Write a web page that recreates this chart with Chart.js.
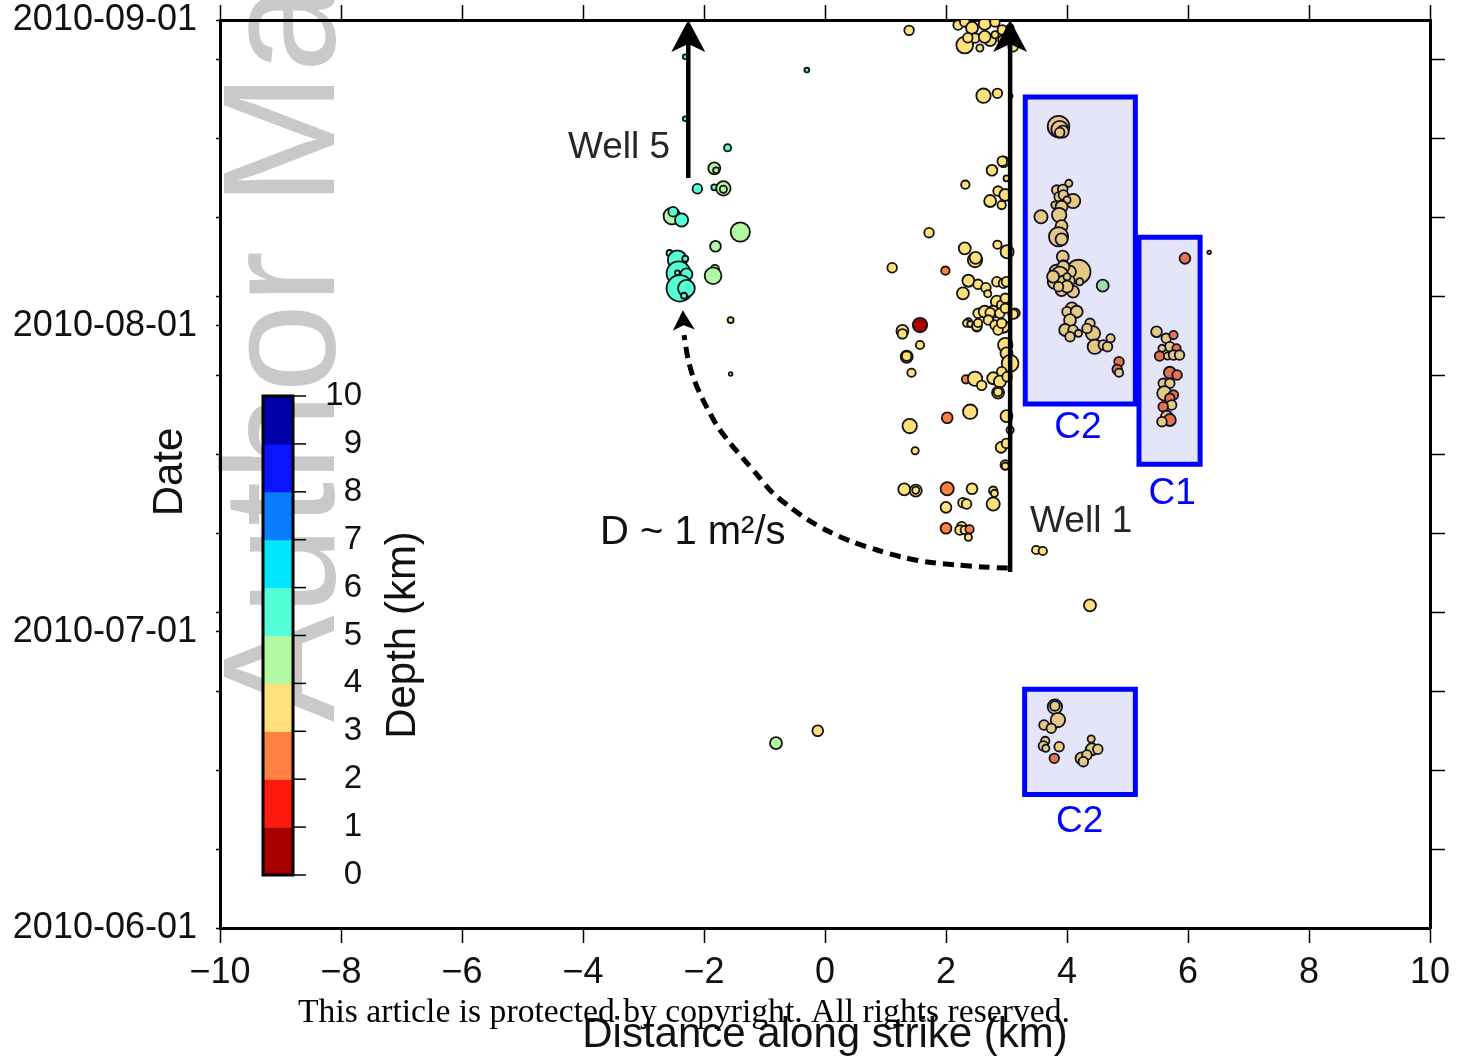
<!DOCTYPE html>
<html>
<head>
<meta charset="utf-8">
<title>Seismicity along strike vs time</title>
<script src="https://cdn.jsdelivr.net/npm/chart.js@4.4.1/dist/chart.umd.min.js"></script>
<style>
  html, body { margin: 0; padding: 0; background: #fff; }
  canvas { display: block; }
</style>
</head>
<body>
<canvas id="chart" width="1458" height="1057"></canvas>
<script>
// Time axis is in days counted from 2010-06-01.
const monthDays = [0, 30, 61, 92];
const monthLabels = ['2010-06-01', '2010-07-01', '2010-08-01', '2010-09-01'];
const minorDays = [8, 16, 24, 32, 40, 48, 56, 64, 72, 80, 88];
const distTicks = [-10, -8, -6, -4, -2, 0, 2, 4, 6, 8, 10];

// depth colour scale, one colour per km (0-1, 1-2, ... 9-10)
const depthLevels = [0, 1, 2, 3, 4, 5, 6, 7, 8, 9, 10];
const depthColors = ['#a80000', '#ff1a10', '#ff8040', '#ffe07a', '#b2f7a2',
                     '#52ffd6', '#00e6ff', '#0a7cff', '#0a14ff', '#0000aa'];

// events: [distance along strike (km), day, depth (km), marker radius]
const well5Events = [
  [-2.31, 88.28, 5.5, 2], [-2.31, 82.0, 5.5, 2], [-1.61, 79.06, 5.5, 3],
  [-1.83, 76.97, 4.5, 5], [-1.80, 76.77, 4.5, 2.5], [-2.11, 74.90, 5.5, 4],
  [-1.83, 75.05, 5.5, 2.5], [-1.68, 74.94, 4.5, 6], [-1.68, 74.85, 4.5, 3],
  [-2.53, 72.14, 4.5, 7], [-2.51, 72.57, 5.5, 4], [-2.37, 71.73, 5.5, 5.5],
  [-1.40, 70.52, 4.5, 8], [-1.81, 69.07, 4.5, 4.5], [-2.57, 68.39, 4.5, 2.5],
  [-2.44, 67.68, 5.5, 8], [-2.31, 67.81, 5.5, 2.5], [-2.42, 66.33, 5.5, 10],
  [-2.29, 66.23, 5.5, 5], [-2.44, 66.39, 5.5, 2], [-1.82, 66.77, 4.5, 3.5],
  [-1.85, 66.09, 4.5, 7], [-2.40, 64.81, 5.5, 11], [-2.29, 64.81, 5.5, 7],
  [-2.33, 64.06, 5.5, 2.5]
];

const scatteredEvents = [
  [-0.30, 86.93, 5.5, 2], [-1.56, 61.60, 3.5, 2.5], [-1.56, 56.13, 3.5, 1.5],
  [-0.81, 18.74, 4.5, 5], [-0.12, 19.99, 3.5, 4.5], [1.39, 90.95, 3.5, 4],
  [1.72, 70.45, 3.5, 4], [1.11, 66.90, 3.5, 4], [3.49, 38.30, 3.5, 3.5],
  [3.60, 38.20, 3.5, 3.5], [4.38, 32.69, 3.5, 5], [6.35, 68.46, 4.5, 1.5]
];

const wellColumnEvents = [
  [2.31, 89.46, 3.5, 7], [2.20, 91.49, 3.5, 4], [2.31, 91.80, 3.5, 4],
  [2.43, 91.20, 3.5, 5], [2.64, 91.60, 3.5, 5], [2.81, 91.80, 3.5, 4],
  [2.93, 91.00, 3.5, 4], [2.48, 90.17, 3.5, 4], [2.73, 89.97, 3.5, 5],
  [2.94, 89.97, 3.5, 4], [3.11, 89.29, 3.5, 4], [2.56, 89.16, 3.5, 3],
  [2.36, 90.20, 3.5, 4], [2.81, 90.50, 3.5, 3], [3.06, 91.20, 3.5, 3],
  [2.64, 90.30, 3.5, 5], [2.62, 84.33, 3.5, 6], [2.85, 84.57, 3.5, 4],
  [3.07, 84.30, 0.5, 1.5], [2.95, 77.64, 3.5, 4.5], [2.93, 77.70, 3.5, 4],
  [2.76, 76.77, 3.5, 4.5], [3.00, 75.96, 3.5, 2.5], [2.32, 75.31, 3.5, 3.5],
  [2.86, 74.67, 3.5, 4], [2.98, 74.27, 3.5, 5], [2.73, 73.66, 3.5, 5],
  [2.92, 73.25, 3.5, 3.5], [2.85, 69.23, 3.5, 3.5], [2.31, 68.87, 3.5, 5],
  [3.01, 68.52, 3.5, 5.5], [2.48, 67.68, 3.5, 6], [2.49, 67.90, 3.5, 5],
  [1.99, 66.60, 2.5, 3.5], [2.37, 65.58, 3.5, 5], [2.53, 65.22, 3.5, 4],
  [2.66, 64.87, 3.5, 4], [2.84, 65.48, 3.5, 4], [2.95, 65.32, 3.5, 4],
  [3.00, 65.48, 3.5, 4], [2.28, 64.31, 3.5, 5], [2.69, 64.27, 3.5, 3],
  [2.84, 63.46, 3.5, 5], [2.92, 63.12, 3.5, 4], [2.98, 63.80, 3.5, 4],
  [2.53, 62.28, 3.5, 4], [2.64, 62.44, 3.5, 5], [2.78, 62.44, 3.5, 5],
  [2.89, 62.28, 3.5, 4], [2.98, 62.79, 3.5, 4], [3.14, 62.28, 3.5, 4],
  [2.73, 62.34, 3.5, 4], [3.11, 62.20, 3.5, 4], [2.37, 61.43, 3.5, 3],
  [2.51, 60.92, 3.5, 4], [2.70, 61.60, 3.5, 4], [2.81, 61.09, 3.5, 4],
  [2.95, 60.92, 3.5, 5], [2.86, 60.59, 3.5, 4], [2.92, 61.27, 3.5, 4],
  [2.34, 61.27, 3.5, 3], [2.40, 61.20, 3.5, 2.5], [2.51, 60.99, 3.5, 4],
  [2.53, 61.30, 3.5, 3.5], [1.57, 61.09, 0.5, 6], [1.28, 60.50, 3.5, 5],
  [1.28, 60.20, 3.5, 4], [1.57, 59.07, 3.5, 3.5], [1.35, 57.88, 3.5, 5],
  [1.35, 57.95, 3.5, 4], [1.43, 56.26, 3.5, 3.5], [2.98, 59.07, 3.5, 6],
  [3.00, 58.23, 3.5, 5], [3.06, 57.21, 3.5, 7], [2.92, 56.36, 3.5, 4],
  [2.78, 55.70, 3.5, 5], [2.89, 55.35, 3.5, 5], [3.01, 55.86, 3.5, 4],
  [2.33, 55.59, 2.5, 3.5], [2.48, 55.65, 3.5, 6], [2.59, 54.98, 3.5, 4],
  [2.86, 54.24, 3.5, 5], [2.86, 54.30, 3.5, 3.5], [2.02, 51.70, 2.5, 4.5],
  [2.40, 52.31, 3.5, 6], [3.00, 51.87, 3.5, 5], [3.06, 50.46, 3.5, 3],
  [1.40, 50.86, 3.5, 6], [1.49, 48.36, 3.5, 3], [2.91, 48.70, 3.5, 4.5],
  [3.00, 49.10, 3.5, 4], [2.98, 46.91, 3.5, 4], [2.98, 46.80, 3.5, 3],
  [1.31, 44.45, 3.5, 5], [1.50, 44.31, 3.5, 5], [1.50, 44.35, 3.5, 3],
  [2.02, 44.51, 2.5, 5.5], [2.43, 44.51, 3.5, 4.5], [2.78, 44.31, 3.5, 3.5],
  [2.80, 44.04, 3.5, 3], [2.28, 43.09, 3.5, 4], [2.34, 42.96, 3.5, 4],
  [2.00, 42.62, 3.5, 4.5], [2.78, 42.96, 3.5, 5.5], [2.00, 40.50, 2.5, 4.5],
  [2.26, 40.66, 3.5, 4], [2.23, 40.32, 3.5, 4], [2.31, 40.32, 3.5, 3.5],
  [2.39, 40.40, 2.5, 3.5], [2.37, 39.59, 3.5, 3]
];

const clusterC2Events = [
  [3.86, 81.20, 3.5, 9], [3.88, 80.92, 3.5, 7], [3.93, 80.70, 3.5, 5],
  [3.88, 80.60, 3.5, 4], [4.03, 75.45, 3.5, 3], [3.83, 74.77, 3.5, 4],
  [3.93, 74.84, 3.5, 4], [3.87, 74.09, 3.5, 4], [4.10, 73.66, 3.5, 6],
  [3.94, 74.27, 3.5, 4], [4.00, 73.76, 3.5, 3], [3.80, 73.25, 3.5, 3],
  [3.91, 73.08, 3.5, 5], [3.57, 72.07, 3.5, 5.5], [3.87, 72.24, 3.5, 6],
  [3.91, 71.12, 3.5, 5], [3.86, 70.04, 3.5, 8], [3.91, 69.78, 3.5, 5],
  [3.93, 68.02, 3.5, 5], [3.94, 67.17, 3.5, 4], [4.19, 66.49, 3.5, 10],
  [3.83, 66.49, 3.5, 6], [4.05, 66.49, 3.5, 5], [3.94, 67.00, 3.5, 5],
  [3.88, 66.16, 3.5, 7], [3.80, 65.48, 3.5, 6], [3.94, 65.48, 3.5, 5],
  [4.05, 65.58, 3.5, 4], [3.77, 65.99, 3.5, 5], [4.00, 65.99, 3.5, 3],
  [4.21, 65.48, 3.5, 3], [3.91, 64.64, 3.5, 5], [4.10, 64.47, 3.5, 5],
  [4.00, 64.98, 3.5, 5], [3.86, 64.98, 3.5, 4], [4.59, 65.08, 4.5, 5],
  [4.08, 62.79, 3.5, 5], [4.00, 62.44, 3.5, 4], [4.16, 62.44, 3.5, 5],
  [4.05, 61.60, 3.5, 5], [3.97, 60.59, 3.5, 5], [4.10, 60.59, 3.5, 4],
  [4.19, 60.25, 3.5, 3], [4.05, 59.91, 3.5, 4], [4.38, 61.27, 3.5, 4],
  [4.43, 60.25, 3.5, 6], [4.33, 60.75, 3.5, 4], [4.46, 58.90, 3.5, 6],
  [4.60, 59.07, 3.5, 4], [4.67, 58.90, 3.5, 4], [4.72, 59.75, 3.5, 3.5],
  [4.86, 57.38, 2.5, 4], [4.83, 56.60, 2.5, 4], [4.86, 56.26, 3.5, 3.5]
];

const clusterC1Events = [
  [5.95, 67.85, 2.5, 4.5], [5.48, 60.42, 3.5, 4.5], [5.64, 59.75, 3.5, 4],
  [5.76, 60.08, 2.5, 3.5], [5.70, 58.90, 3.5, 4], [5.81, 58.73, 2.5, 3.5],
  [5.57, 58.73, 3.5, 3], [5.53, 57.95, 2.5, 4], [5.66, 57.95, 3.5, 3],
  [5.76, 58.05, 3.5, 4], [5.86, 58.05, 3.5, 4], [5.70, 56.26, 2.5, 5],
  [5.82, 56.03, 2.5, 4], [5.59, 55.19, 3.5, 4], [5.70, 55.19, 3.5, 4],
  [5.61, 54.17, 3.5, 6], [5.76, 54.00, 2.5, 4], [5.70, 53.67, 2.5, 4],
  [5.73, 52.99, 3.5, 4], [5.59, 52.82, 2.5, 4], [5.65, 51.80, 3.5, 5],
  [5.70, 51.47, 2.5, 5], [5.57, 51.30, 3.5, 4]
];

const earlyC2Events = [
  [3.80, 22.42, 3.5, 6], [3.80, 22.50, 3.5, 4], [3.85, 21.07, 3.5, 6],
  [3.62, 20.57, 3.5, 4], [3.74, 20.23, 3.5, 4], [3.64, 18.95, 3.5, 3.5],
  [3.61, 18.44, 3.5, 4], [3.65, 18.21, 3.5, 3], [3.87, 18.37, 3.5, 4],
  [3.79, 17.19, 2.5, 4], [4.40, 19.15, 3.5, 3], [4.41, 18.11, 3.5, 5],
  [4.51, 18.11, 3.5, 4], [4.24, 17.19, 3.5, 5], [4.33, 17.53, 3.5, 4],
  [4.27, 16.85, 3.5, 4]
];

// cluster boxes
const boxNames = ['C2', 'C1', 'C2'];
const boxLeft = [3.31, 5.19, 3.30];
const boxRight = [5.13, 6.20, 5.13];
const boxTop = [84.2, 70.0, 24.2];
const boxBottom = [53.1, 47.0, 13.53];
const boxLabelDist = [4.18, 5.74, 4.21];
const boxLabelDay = [50.66, 43.97, 10.74];

// injection wells and the start of injection
const wellNames = ['Well 5', 'Well 1'];
const wellDist = [-2.26, 3.06];
const wellStartDay = [76.0, 36.07];
const wellLabelDist = [-2.56, 3.39];
const wellLabelDay = [79.1, 41.2];

// pressure diffusion front from Well 1 toward Well 5
const frontDist = [3.02, 2.60, 2.18, 1.69, 1.27, 0.86, 0.46, 0.08, -0.28, -0.58,
                   -0.88, -1.12, -1.36, -1.57, -1.77, -1.93, -2.07, -2.18, -2.26, -2.31, -2.33];
const frontDay = [36.47, 36.58, 36.78, 37.08, 37.59, 38.30, 39.11, 40.12, 41.34, 42.65,
                  44.17, 45.90, 47.62, 49.14, 50.76, 52.48, 54.20, 55.83, 57.55, 59.27, 60.08];
const frontTip = [-2.35, 62.6];

const FONT = '"Liberation Sans", Arial, Helvetica, sans-serif';
const MARKER_SCALE = 1.2;
Chart.defaults.font.family = FONT;
Chart.defaults.color = '#111';

const allEvents = well5Events.concat(scatteredEvents, wellColumnEvents,
  clusterC2Events, clusterC1Events, earlyC2Events);

function depthColor(d) {
  return depthColors[Math.max(0, Math.min(9, Math.floor(d)))];
}

function arrowHead(c, tx, ty, ux, uy, len, hw, notch) {
  const bx = tx - ux * len, by = ty - uy * len;
  const nx = tx - ux * (len - notch), ny = ty - uy * (len - notch);
  c.beginPath();
  c.moveTo(tx, ty);
  c.lineTo(bx - uy * hw, by + ux * hw);
  c.lineTo(nx, ny);
  c.lineTo(bx + uy * hw, by - ux * hw);
  c.closePath();
  c.fill();
}

// keep the plot frame exactly where the axes put it
function noPad(s) {
  s.paddingTop = 0; s.paddingBottom = 0; s.paddingLeft = 0; s.paddingRight = 0;
}

const overlay = {
  id: 'overlay',
  beforeDraw(chart) {
    const c = chart.ctx;
    c.save();
    c.translate(334, 722);
    c.rotate(-Math.PI / 2);
    c.font = '160px ' + FONT;
    c.fillStyle = '#c9c9c9';
    c.fillText('Author Manuscript', 0, 0);
    c.restore();
  },
  afterDatasetsDraw(chart) {
    const c = chart.ctx;
    const px = v => chart.scales.x.getPixelForValue(v);
    const py = v => chart.scales.y.getPixelForValue(v);
    c.save();
    c.fillStyle = '#000';
    wellDist.forEach(d => arrowHead(c, px(d), py(92), 0, -1, 32, 17, 8));
    const n = frontDist.length - 1;
    const bx = px(frontDist[n]), by = py(frontDay[n]);
    const tx = px(frontTip[0]), ty = py(frontTip[1]);
    const len = Math.hypot(tx - bx, ty - by);
    arrowHead(c, tx, ty, (tx - bx) / len, (ty - by) / len, 20, 11, 5);

    c.textBaseline = 'middle';
    c.font = '37px ' + FONT;
    c.fillStyle = '#262626';
    c.textAlign = 'right';
    c.fillText(wellNames[0], px(wellLabelDist[0]), py(wellLabelDay[0]));
    c.textAlign = 'left';
    c.fillText(wellNames[1], px(wellLabelDist[1]), py(wellLabelDay[1]));

    c.fillStyle = '#111';
    c.font = '40px ' + FONT;
    c.fillText('D ~ 1 m\u00b2/s', px(-3.72), py(40.0));

    c.fillStyle = '#0000ff';
    c.font = '37px ' + FONT;
    c.textAlign = 'center';
    boxNames.forEach((name, i) => c.fillText(name, px(boxLabelDist[i]), py(boxLabelDay[i])));
    c.restore();
  },
  afterDraw(chart) {
    const c = chart.ctx;
    const area = chart.chartArea;
    c.save();

    // depth colour bar
    const cb = { left: 263, right: 293, top: 396, bottom: 875 };
    const step = (cb.bottom - cb.top) / 10;
    depthColors.forEach((col, i) => {
      c.fillStyle = col;
      c.fillRect(cb.left, cb.bottom - (i + 1) * step, cb.right - cb.left, step + 0.5);
    });
    c.strokeStyle = '#000';
    c.lineWidth = 3;
    c.strokeRect(cb.left, cb.top, cb.right - cb.left, cb.bottom - cb.top);
    c.lineWidth = 1.5;
    c.font = '33px ' + FONT;
    c.fillStyle = '#111';
    c.textAlign = 'right';
    c.textBaseline = 'middle';
    depthLevels.forEach(lv => {
      const y = cb.bottom - lv * step;
      c.beginPath();
      c.moveTo(cb.right, y);
      c.lineTo(cb.right + 13, y);
      c.stroke();
      c.fillText(String(lv), 362, y);
    });

    // axis titles
    c.font = '42px ' + FONT;
    c.textAlign = 'center';
    c.textBaseline = 'alphabetic';
    c.fillText('Distance along strike (km)', (area.left + area.right) / 2, 1047);
    c.textBaseline = 'middle';
    [['Date', 170, 472], ['Depth (km)', 403, 635]].forEach(([t, x, y]) => {
      c.save();
      c.translate(x, y);
      c.rotate(-Math.PI / 2);
      c.fillText(t, 0, 0);
      c.restore();
    });

    // copyright line
    const note = 'This article is protected by copyright. All rights reserved.';
    c.font = '30px "Liberation Serif", "Times New Roman", serif';
    const fit = 30 * 772 / c.measureText(note).width;
    c.font = fit.toFixed(2) + 'px "Liberation Serif", "Times New Roman", serif';
    c.textAlign = 'left';
    c.textBaseline = 'alphabetic';
    c.fillStyle = '#000';
    c.fillText(note, 298, 1022);
    c.restore();
  }
};

const boxDatasets = boxNames.map((name, i) => ({
  type: 'line',
  label: name,
  data: [
    { x: boxLeft[i], y: boxTop[i] }, { x: boxRight[i], y: boxTop[i] },
    { x: boxRight[i], y: boxBottom[i] }, { x: boxLeft[i], y: boxBottom[i] },
    { x: boxLeft[i], y: boxTop[i] }
  ],
  borderColor: '#0000ff',
  borderWidth: 5,
  borderJoinStyle: 'miter',
  borderCapStyle: 'square',
  backgroundColor: 'rgba(0, 0, 205, 0.1)',
  fill: 'shape',
  pointRadius: 0,
  order: 2
}));

const wellDatasets = wellNames.map((name, i) => ({
  type: 'line',
  label: name,
  data: [{ x: wellDist[i], y: wellStartDay[i] }, { x: wellDist[i], y: 90 }],
  borderColor: '#000',
  borderWidth: 4.5,
  pointRadius: 0,
  order: 1
}));

new Chart(document.getElementById('chart'), {
  type: 'scatter',
  data: {
    datasets: [
      {
        label: 'events',
        data: allEvents.map(e => ({ x: e[0], y: e[1] })),
        pointRadius: allEvents.map(e => e[3] * MARKER_SCALE),
        pointBackgroundColor: allEvents.map(e => depthColor(e[2])),
        pointBorderColor: '#121212',
        pointBorderWidth: 1.8,
        order: 3
      },
      ...boxDatasets,
      ...wellDatasets,
      {
        type: 'line',
        label: 'diffusion front',
        data: frontDist.map((d, i) => ({ x: d, y: frontDay[i] })),
        borderColor: '#000',
        borderWidth: 5,
        borderDash: [11, 7],
        tension: 0.3,
        pointRadius: 0,
        order: 1
      }
    ]
  },
  options: {
    responsive: false,
    animation: false,
    events: [],
    layout: { padding: 0 },
    plugins: { legend: { display: false }, tooltip: { enabled: false } },
    scales: {
      x: {
        type: 'linear', position: 'bottom', min: -10, max: 10,
        afterBuildTicks: s => { s.ticks = distTicks.map(v => ({ value: v })); },
        afterFit: s => { s.height = 129; noPad(s); },
        grid: { drawOnChartArea: false, tickLength: 15, tickWidth: 1.5, tickColor: '#000' },
        border: { color: '#000', width: 3 },
        ticks: {
          padding: 8, autoSkip: false, maxRotation: 0, font: { size: 36 },
          callback: v => (v < 0 ? '\u2212' + (-v) : String(v))
        }
      },
      x2: {
        type: 'linear', position: 'top', min: -10, max: 10,
        afterBuildTicks: s => { s.ticks = distTicks.map(v => ({ value: v })); },
        afterFit: s => { s.height = 20; noPad(s); },
        grid: { drawOnChartArea: false, tickLength: 15, tickWidth: 1.5, tickColor: '#000' },
        border: { color: '#000', width: 3 },
        ticks: { autoSkip: false, callback: () => '' }
      },
      y: {
        type: 'linear', position: 'left', min: 0, max: 92,
        afterBuildTicks: s => {
          s.ticks = monthDays.concat(minorDays).sort((a, b) => a - b).map(v => ({ value: v }));
        },
        afterFit: s => { s.width = 220; noPad(s); },
        grid: { drawOnChartArea: false, tickLength: 4, tickWidth: 1.5, tickColor: '#000' },
        border: { color: '#000', width: 3 },
        ticks: {
          padding: 19, autoSkip: false, font: { size: 36 },
          callback: v => {
            const i = monthDays.indexOf(v);
            return i >= 0 ? monthLabels[i] : '';
          }
        }
      },
      y2: {
        type: 'linear', position: 'right', min: 0, max: 92,
        afterBuildTicks: s => { s.ticks = minorDays.map(v => ({ value: v })); },
        afterFit: s => { s.width = 28; noPad(s); },
        grid: { drawOnChartArea: false, tickLength: 15, tickWidth: 1.5, tickColor: '#000' },
        border: { color: '#000', width: 3 },
        ticks: { autoSkip: false, callback: () => '' }
      }
    }
  },
  plugins: [overlay]
});
</script>
</body>
</html>
